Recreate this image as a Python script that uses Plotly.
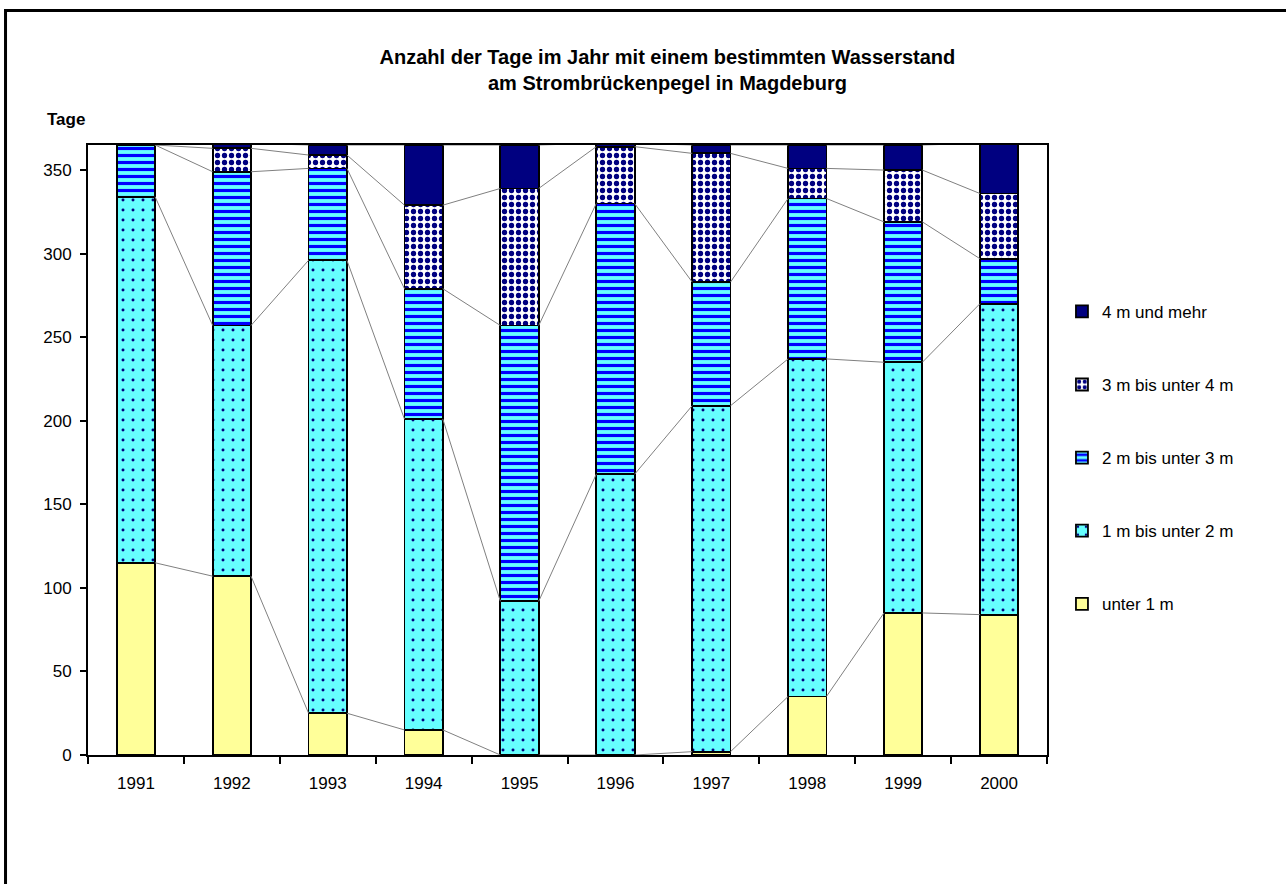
import numpy as np
import plotly.graph_objects as go

# Jahre und Tage je Wasserstandsklasse
years = ["1991", "1992", "1993", "1994", "1995", "1996", "1997", "1998", "1999", "2000"]
unter_1m = [115, 107, 25, 15, 0, 0, 2, 35, 85, 84]
m1_bis_2 = [219, 150, 271, 186, 92, 168, 207, 202, 150, 186]
m2_bis_3 = [31, 92, 55, 78, 165, 162, 74, 96, 84, 27]
m3_bis_4 = [0, 14, 8, 50, 82, 34, 77, 18, 31, 39]
m4_mehr = [0, 3, 6, 36, 26, 2, 5, 14, 15, 30]

series = [
    ("unter 1 m", unter_1m, dict(fillcolor="#FFFF99", fgcolor="#FFFF99", shape="")),
    ("1 m bis unter 2 m", m1_bis_2, dict(fillcolor="#66FFFF", fgcolor="#000080", shape=".", size=10, solidity=0.07)),
    ("2 m bis unter 3 m", m2_bis_3, dict(fillcolor="#66FFFF", fgcolor="#0000FF", shape="-", size=7, solidity=0.45)),
    ("3 m bis unter 4 m", m3_bis_4, dict(fillcolor="#FFFFFF", fgcolor="#000080", shape=".", size=7, solidity=0.45)),
    ("4 m und mehr", m4_mehr, dict(fillcolor="#000080", fgcolor="#000080", shape="")),
]

FONT = "Liberation Sans, Arial, sans-serif"
x = np.arange(len(years))
bar_w = 0.4

fig = go.Figure()

# Verbindungslinien zwischen den Säulen (Excel-Reihenlinien)
cum = np.zeros(len(years))
for name, vals, st in series:
    cum = cum + np.array(vals)
    lx, ly = [], []
    for i in range(len(years) - 1):
        lx += [x[i] + bar_w / 2, x[i + 1] - bar_w / 2, None]
        ly += [cum[i], cum[i + 1], None]
    fig.add_trace(go.Scatter(x=lx, y=ly, mode="lines", line=dict(color="#808080", width=1),
                             showlegend=False, hoverinfo="skip"))

for k, (name, vals, st) in enumerate(series):
    pat = dict(shape=st["shape"], fgcolor=st["fgcolor"], bgcolor=st["fillcolor"], fillmode="replace")
    if "size" in st:
        pat["size"] = st["size"]
        pat["solidity"] = st["solidity"]
    fig.add_trace(go.Bar(
        x=x, y=vals, name=name, width=bar_w, legendgroup=name, legendrank=len(series) - k,
        marker=dict(color=st["fillcolor"], line=dict(color="black", width=1.8), pattern=pat),
    ))

fig.update_layout(
    barmode="stack",
    width=1286, height=884,
    margin=dict(l=88, r=239, t=145, b=129),
    paper_bgcolor="white", plot_bgcolor="white",
    font=dict(family=FONT, size=17, color="black"),
    title=dict(text="<b>Anzahl der Tage im Jahr mit einem bestimmten Wasserstand<br>am Strombrückenpegel in Magdeburg</b>",
               x=0.519, xanchor="center", y=1 - 63.5 / 884, yanchor="middle",
               font=dict(family=FONT, size=20, color="black")),
    legend=dict(x=1.0156, xanchor="left", y=0.756, yanchor="top", traceorder="grouped",
                tracegroupgap=48, font=dict(family=FONT, size=17), bgcolor="rgba(0,0,0,0)"),
    annotations=[dict(text="<b>Tage</b>", xref="paper", yref="paper", x=-0.0448, y=1.041,
                      xanchor="left", yanchor="middle", showarrow=False,
                      font=dict(family=FONT, size=17, color="black"))],
    shapes=[dict(type="rect", xref="paper", yref="paper", x0=-0.086, y0=-0.3, x1=1.3, y1=1.2205,
                 line=dict(color="black", width=3), layer="below")],
)

fig.update_xaxes(
    range=[-0.5, len(years) - 0.5], tickmode="array", tickvals=x, ticktext=years,
    ticks="", ticklabelstandoff=12, showline=True, linecolor="black", linewidth=2, mirror=True,
    showgrid=False, zeroline=False,
    minor=dict(tickmode="array", tickvals=list(np.arange(-0.5, len(years), 1.0)),
               ticks="outside", ticklen=7, tickwidth=2, tickcolor="black", showgrid=False),
)
fig.update_yaxes(
    range=[0, 365], tickmode="array", tickvals=list(range(0, 351, 50)),
    ticks="outside", ticklen=6, tickwidth=2, tickcolor="black", ticklabelstandoff=5,
    showline=True, linecolor="black", linewidth=2, mirror=True,
    showgrid=False, zeroline=False,
)

fig.write_html("out.html", config={"displayModeBar": False},
               post_script="document.body.style.margin='0px';")
